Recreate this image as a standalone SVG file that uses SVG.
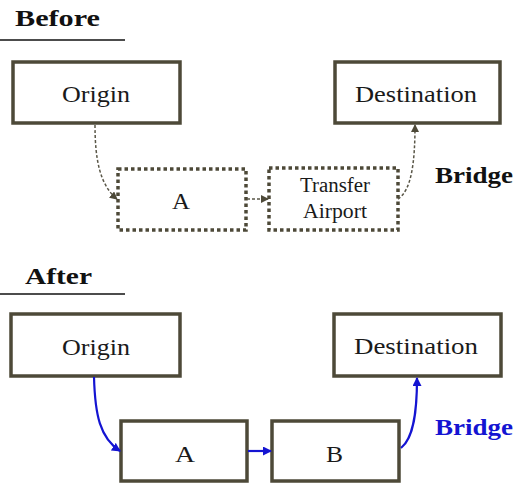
<svg xmlns="http://www.w3.org/2000/svg" width="524" height="484" viewBox="0 0 524 484">
  <style>
    text { font-family: "Liberation Serif", "Times New Roman", serif; }
    .title { font-weight: bold; font-size: 24px; fill: #111; }
    .label { font-size: 24px; fill: #1a1a1a; }
    .small { font-size: 20px; fill: #1a1a1a; }
    .box { fill: #fff; stroke: #4d4938; stroke-width: 3.5; }
    .dotted { fill: #fff; stroke: #4d4938; stroke-width: 3.5; stroke-dasharray: 3.5 3; }
    .rule { stroke: #111; stroke-width: 1.5; }
    .link-old { fill: none; stroke: #5a5748; stroke-width: 1.5; stroke-dasharray: 3 2; }
    .link-new { fill: none; stroke: #1414d2; stroke-width: 2.2; }
  </style>
  <defs>
    <marker id="arrow-old" markerWidth="8" markerHeight="8" refX="7" refY="4" orient="auto" markerUnits="userSpaceOnUse">
      <path d="M0,0 L8,4 L0,8 z" fill="#4d4938"/>
    </marker>
    <marker id="arrow-new" markerWidth="9" markerHeight="9" refX="8" refY="4.5" orient="auto" markerUnits="userSpaceOnUse">
      <path d="M0,0 L9,4.5 L0,9 z" fill="#1414d2"/>
    </marker>
  </defs>

  <!-- Before section -->
  <text class="title" x="15" y="26" textLength="85" lengthAdjust="spacingAndGlyphs">Before</text>
  <line class="rule" x1="0" y1="40" x2="125" y2="40"/>

  <g id="before-origin">
    <rect class="box" x="13" y="62" width="167" height="61"/>
    <text class="label" x="62" y="102" textLength="68" lengthAdjust="spacingAndGlyphs">Origin</text>
  </g>
  <g id="before-destination">
    <rect class="box" x="335" y="62" width="165" height="61"/>
    <text class="label" x="355" y="102" textLength="122" lengthAdjust="spacingAndGlyphs">Destination</text>
  </g>
  <g id="before-a">
    <rect class="dotted" x="118" y="169" width="128" height="61"/>
    <text class="label" x="172" y="209" textLength="18" lengthAdjust="spacingAndGlyphs">A</text>
  </g>
  <g id="before-transfer">
    <rect class="dotted" x="269" y="168" width="129" height="62"/>
    <text class="small" x="300" y="192" textLength="70" lengthAdjust="spacingAndGlyphs">Transfer</text>
    <text class="small" x="303" y="218" textLength="64" lengthAdjust="spacingAndGlyphs">Airport</text>
  </g>
  <text class="title" x="435" y="183" textLength="78" lengthAdjust="spacingAndGlyphs">Bridge</text>

  <g id="before-links">
    <path class="link-old" d="M95,125 C95,160 100,185 117,199" marker-end="url(#arrow-old)"/>
    <path class="link-old" d="M247,199 L268,199" marker-end="url(#arrow-old)"/>
    <path class="link-old" d="M398,199 C412,190 415,160 415,125" marker-end="url(#arrow-old)"/>
  </g>

  <!-- After section -->
  <text class="title" x="25" y="284" textLength="67" lengthAdjust="spacingAndGlyphs">After</text>
  <line class="rule" x1="0" y1="294" x2="125" y2="294"/>

  <g id="after-origin">
    <rect class="box" x="11" y="314" width="169" height="62"/>
    <text class="label" x="62" y="355" textLength="68" lengthAdjust="spacingAndGlyphs">Origin</text>
  </g>
  <g id="after-destination">
    <rect class="box" x="334" y="314" width="167" height="62"/>
    <text class="label" x="354" y="354" textLength="124" lengthAdjust="spacingAndGlyphs">Destination</text>
  </g>
  <g id="after-a">
    <rect class="box" x="121" y="421" width="126" height="60"/>
    <text class="label" x="175" y="462" textLength="20" lengthAdjust="spacingAndGlyphs">A</text>
  </g>
  <g id="after-b">
    <rect class="box" x="272" y="421" width="127" height="60"/>
    <text class="label" x="326" y="462" textLength="17" lengthAdjust="spacingAndGlyphs">B</text>
  </g>
  <text class="title" x="435" y="435" textLength="78" lengthAdjust="spacingAndGlyphs" style="fill:#1414d2">Bridge</text>

  <g id="after-links">
    <path class="link-new" d="M94,377 C95,415 100,438 120,451" marker-end="url(#arrow-new)"/>
    <path class="link-new" d="M248,451 L271,451" marker-end="url(#arrow-new)"/>
    <path class="link-new" d="M401,448 C414,438 417,410 417,378" marker-end="url(#arrow-new)"/>
  </g>
</svg>
